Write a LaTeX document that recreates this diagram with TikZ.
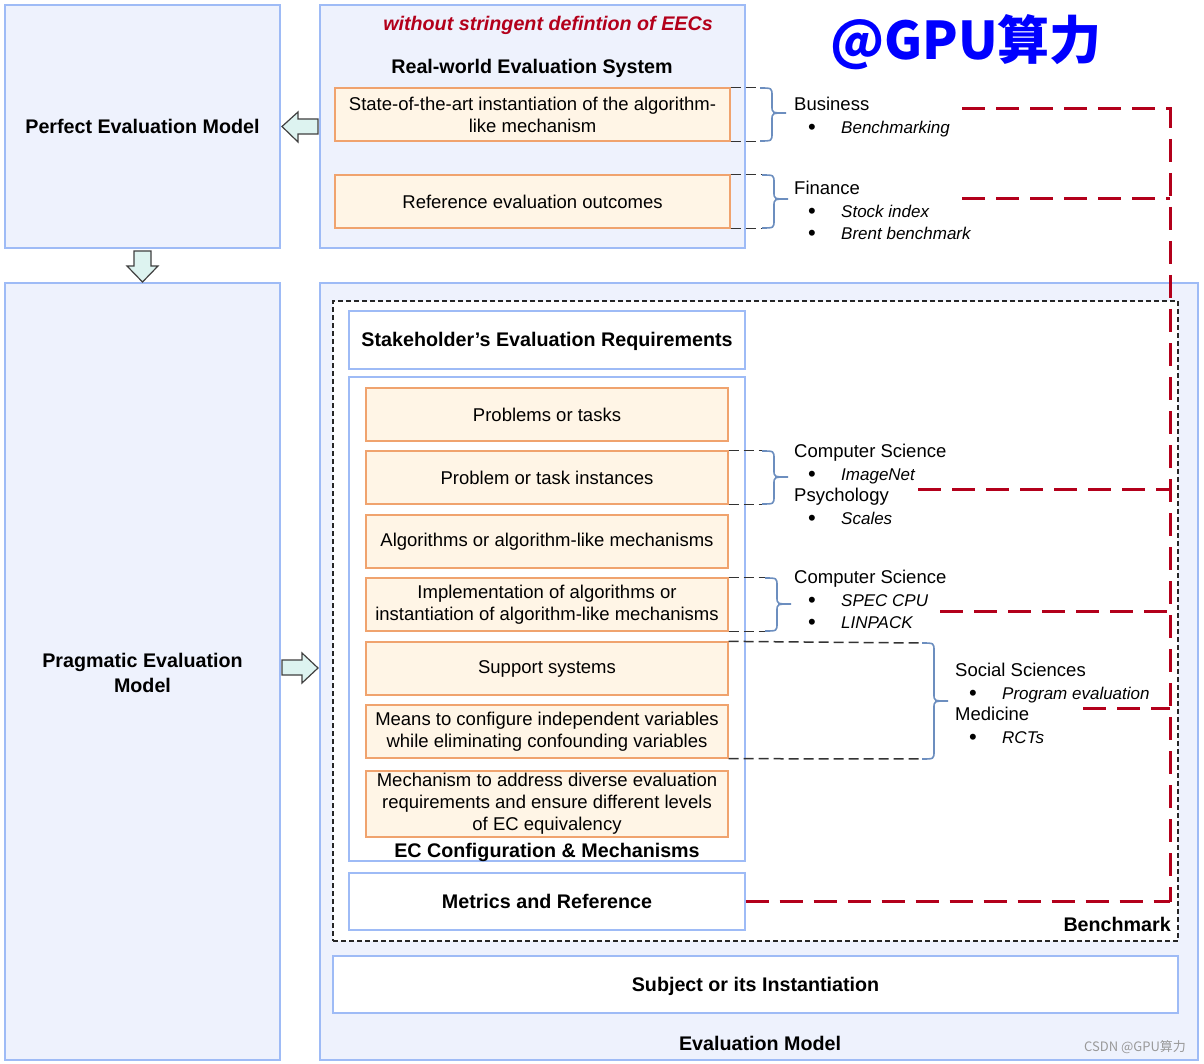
\documentclass[tikz,border=0pt]{standalone}
\usepackage{fontspec}
\setmainfont{Liberation Sans}
\newfontfamily\cjkfont{Noto Sans CJK SC}
\usetikzlibrary{calc}
\definecolor{paneFill}{HTML}{EEF2FD}
\definecolor{paneLine}{HTML}{9EBBF6}
\definecolor{orgFill}{HTML}{FFF5E6}
\definecolor{orgLine}{HTML}{F0A36E}
\definecolor{redLine}{HTML}{B3001B}
\definecolor{braceCol}{HTML}{6C8EBF}
\definecolor{arrFill}{HTML}{DDF3F0}
\newcommand{\myreg}{\fontsize{18.5}{22}\selectfont}
\newcommand{\mybold}{\fontsize{19.7}{25}\selectfont\bfseries}
\newcommand{\myital}{\fontsize{17}{20}\selectfont\itshape}
\tikzset{
  pane/.style={draw=paneLine, fill=paneFill, line width=1.3pt, inner sep=0pt},
  whitebox/.style={draw=paneLine, fill=white, line width=1.3pt, inner sep=0pt, font=\mybold, align=center},
  onebold/.style={text height=14pt, text depth=0pt},
  orgbox/.style={draw=orgLine, fill=orgFill, line width=1.3pt, minimum width=362pt, minimum height=53pt, align=center, font=\myreg, inner sep=0pt},
  orgwide/.style={orgbox, minimum width=395pt},
  title/.style={font=\mybold, inner sep=0pt, align=center},
  label/.style={font=\myreg, anchor=west, inner sep=0pt, text height=13pt, text depth=0pt},
  item/.style={font=\myital, anchor=west, inner sep=0pt, text height=12.5pt, text depth=0pt},
  reddash/.style={draw=redLine, line width=3pt, dash pattern=on 23pt off 11pt},
  bdash/.style={draw=black!80, line width=1.5pt, dash pattern=on 10pt off 5pt},
  brc/.style={draw=braceCol, line width=1.6pt},
  blockarrow/.style={draw=black!75, line width=1.2pt, fill=arrFill, line join=miter}
}
\newcommand{\bul}[1]{\makebox[33pt][l]{\normalfont\raisebox{-1pt}{\fontsize{22}{22}\selectfont\textbullet}}#1}
% curly brace: x of start, y top, y bottom, y middle
\newcommand{\cbrace}[4]{%
  \draw[brc] (#1,#2) .. controls (#1+12,#2) .. (#1+12,#2+8) -- (#1+12,#4-7)
    .. controls (#1+12,#4) .. (#1+26,#4)
    .. controls (#1+12,#4) .. (#1+12,#4+7) -- (#1+12,#3-8)
    .. controls (#1+12,#3) .. (#1,#3);}
\begin{document}
\begin{tikzpicture}[x=1pt, y=-1pt]
\fill[white] (0,0) rectangle (1204,1064);
\useasboundingbox (0,0) rectangle (1204,1064);

% left panes
\node[pane, minimum width=275pt, minimum height=243pt, font=\mybold, onebold] (perfect) at (142.5,126.5) {Perfect Evaluation Model};
\node[pane, minimum width=275pt, minimum height=777pt] (pragmatic) at (142.5,671.5) {};
\node[title] (pragT) at (142.5,673) {Pragmatic Evaluation\\Model};

% real-world pane
\node[pane, minimum width=425pt, minimum height=243pt] (realworld) at (532.5,126.5) {};
\node[title, text=redLine, font=\mybold\itshape] (rwnote) at (548,25) {without stringent defintion of EECs};
\node[title] (rwtitle) at (532,68) {Real-world Evaluation System};
\node[orgwide] (sota) at (532.5,114.5) {State-of-the-art instantiation of the algorithm-\\like mechanism};
\node[orgwide] (refout) at (532.5,201.5) {Reference evaluation outcomes};

% evaluation model pane
\node[pane, minimum width=878pt, minimum height=777pt] (evalmodel) at (759,671.5) {};
\node[title] (evaltitle) at (760,1043) {Evaluation Model};
\node[draw=black!85, fill=white, line width=1.2pt, dash pattern=on 5pt off 3pt, minimum width=845pt, minimum height=640pt, inner sep=0pt] (bench) at (755.5,621) {};
\node[title, anchor=east] (benchtitle) at (1171,924) {Benchmark};
\node[whitebox, onebold, minimum width=396pt, minimum height=58pt] (stake) at (547,340) {Stakeholder’s Evaluation Requirements};
\node[whitebox, minimum width=396pt, minimum height=484pt] (ecbox) at (547,619) {};
\node[title] (ectitle) at (547,852) {EC Configuration \& Mechanisms};
\node[orgbox] (p1) at (547,414.5) {Problems or tasks};
\node[orgbox] (p2) at (547,477.5) {Problem or task instances};
\node[orgbox] (p3) at (547,541.5) {Algorithms or algorithm-like mechanisms};
\node[orgbox] (p4) at (547,604.5) {Implementation of algorithms or\\instantiation of algorithm-like mechanisms};
\node[orgbox] (p5) at (547,668.5) {Support systems};
\node[orgbox] (p6) at (547,731.5) {Means to configure independent variables\\while eliminating confounding variables};
\node[orgbox, minimum height=66pt] (p7) at (547,804) {Mechanism to address diverse evaluation\\requirements and ensure different levels\\of EC equivalency};
\node[whitebox, onebold, minimum width=396pt, minimum height=57pt] (metrics) at (547,901.5) {Metrics and Reference};
\node[whitebox, onebold, minimum width=845pt, minimum height=57pt] (subject) at (755.5,984.5) {Subject or its Instantiation};

% block arrows
\draw[blockarrow] (134,251) -- (151,251) -- (151,266) -- (158,266) -- (142.5,282) -- (127,266) -- (134,266) -- cycle;
\draw[blockarrow] (318,119) -- (298,119) -- (298,112) -- (282,126.5) -- (298,142) -- (298,134) -- (318,134) -- cycle;
\draw[blockarrow] (282,660) -- (302,660) -- (302,653) -- (318,668) -- (302,683) -- (302,675) -- (282,675) -- cycle;

% domain labels
\node[label] (biz) at (794,104) {Business};
\node[item] (bizA) at (808,127) {\bul{Benchmarking}};
\node[label] (fin) at (794,188) {Finance};
\node[item] (finA) at (808,211) {\bul{Stock index}};
\node[item] (finB) at (808,233) {\bul{Brent benchmark}};
\node[label] (cs1) at (794,451) {Computer Science};
\node[item] (cs1A) at (808,474) {\bul{ImageNet}};
\node[label] (psy) at (794,495) {Psychology};
\node[item] (psyA) at (808,518) {\bul{Scales}};
\node[label] (cs2) at (794,577) {Computer Science};
\node[item] (cs2A) at (808,600) {\bul{SPEC CPU}};
\node[item] (cs2B) at (808,622) {\bul{LINPACK}};
\node[label] (soc) at (955,670) {Social Sciences};
\node[item] (socA) at (969,693) {\bul{Program evaluation}};
\node[label] (med) at (955,714) {Medicine};
\node[item] (medA) at (969,737) {\bul{RCTs}};

% dashed leaders and braces
\draw[bdash] (sota.north east) -- ++(30,0);
\draw[bdash] (sota.south east) -- ++(30,0);
\cbrace{760}{88}{141}{113}
\draw[bdash] (refout.north east) -- ++(32,0);
\draw[bdash] (refout.south east) -- ++(32,0);
\cbrace{762}{175}{228}{199}
\draw[bdash] (p2.north east) -- ++(34,0);
\draw[bdash] (p2.south east) -- ++(34,0);
\cbrace{762}{451}{504}{477}
\draw[bdash] (p4.north east) -- ++(37,0);
\draw[bdash] (p4.south east) -- ++(37,0);
\cbrace{765}{578}{631}{604}
\coordinate (sTop) at (922,643);
\coordinate (sBot) at (922,759);
\draw[bdash] (p5.north east) -- (sTop);
\draw[bdash] (p6.south east) -- (sBot);
\cbrace{922}{643}{759}{701}

% red dashed links
\coordinate (r1) at (962,109);
\coordinate (r2) at (962,199);
\coordinate (r3) at (918,489);
\coordinate (r4) at (940,611);
\coordinate (r5) at (1083,708);
\coordinate (v1) at (1170,109);
\coordinate (v2) at (1170,199);
\coordinate (v3) at (1170,489);
\coordinate (v4) at (1170,611);
\coordinate (v5) at (1170,708);
\coordinate (v6) at (1170,901.5);
\draw[reddash] (r1) -- (v1) -- (v6);
\draw[reddash] (metrics.east) -- (v6);
\draw[reddash] (r2) -- (v2);
\draw[reddash] (r3) -- (v3);
\draw[reddash] (r4) -- (v4);
\draw[reddash] (r5) -- (v5);

% watermarks
\node[text=blue, font=\cjkfont\bfseries\fontsize{52}{52}\selectfont, inner sep=0pt] (brand) at (966,42) {@GPU算力};
\node[text=black!40, font=\cjkfont\fontsize{13}{13}\selectfont, inner sep=0pt] (csdn) at (1135,1047) {CSDN @GPU算力};
\end{tikzpicture}
\end{document}
